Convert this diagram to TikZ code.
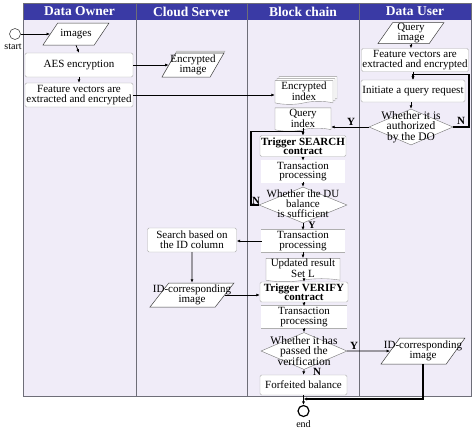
\documentclass[tikz,border=0pt]{standalone}
\usepackage{fontspec}
\setmainfont{Liberation Serif}
\usetikzlibrary{shapes.geometric,shapes.symbols,shadows,arrows.meta,calc}
\definecolor{hdr}{RGB}{58,58,165}
\definecolor{lanebg}{RGB}{240,236,248}
\definecolor{bord}{RGB}{175,175,175}
\definecolor{lanel}{RGB}{110,110,120}
\newcommand\emptyfill{\rule{1pt}{0pt}\rule{0pt}{1pt}}
\begin{document}
\begin{tikzpicture}[x=1pt,y=-1pt,
  txt/.style={font=\fontsize{11}{10}\selectfont, align=center, inner sep=0pt},
  dtxt/.style={font=\fontsize{11.5}{10.3}\selectfont, align=center, inner sep=0pt},
  hd/.style={font=\bfseries\fontsize{13.5}{14}\selectfont, text=white, inner sep=0pt},
  box/.style={draw=bord, fill=white, rounded corners=1.5pt, inner sep=1pt, font=\fontsize{11}{10}\selectfont, align=center},
  tbox/.style={draw=bord, fill=white, double=white, double distance=1.2pt, inner sep=1pt, font=\fontsize{11}{9.5}\selectfont, align=center},
  io/.style={trapezium, trapezium left angle=68, trapezium right angle=112, trapezium stretches=true, draw=black!75, fill=white, inner sep=1pt, line width=0.5pt},
  doc/.style={tape, tape bend top=none, tape bend height=3pt, draw=black!45, fill=white, inner sep=1pt, font=\fontsize{11}{9.5}\selectfont, align=center},
  dia/.style={diamond, draw=black!55, fill=white, inner sep=1pt},
  term/.style={circle, draw=black, line width=1.2pt, fill=white, minimum size=11pt, inner sep=0pt},
  lbl/.style={font=\bfseries\fontsize{11}{11}\selectfont, inner sep=0pt},
  arr/.style={-{Latex[length=3.5pt,width=3pt]}, line width=0.7pt, black},
  larr/.style={-{Latex[length=3.5pt,width=3pt]}, line width=1.3pt, black}
]
\useasboundingbox (0,0) rectangle (474,429);
% lanes
\fill[lanebg] (23,20) rectangle (471,396);
\fill[hdr] (23,3) rectangle (471,20);
\draw[lanel, line width=0.8pt] (23,3) rectangle (471,396);
\foreach \xx in {136,247,359} \draw[lanel, line width=0.8pt] (\xx,3) -- (\xx,396);
\node[hd] (h1) at (79.5,11.5) {Data Owner};
\node[hd] (h2) at (191.5,11.5) {Cloud Server};
\node[hd] (h3) at (303,11.5) {Block chain};
\node[hd] (h4) at (415,11.5) {Data User};

% Data Owner
\node[term, line width=0.6pt, draw=black!70] (start) at (15,34) {};
\node[txt, font=\fontsize{10}{10}\selectfont] (startl) at (13,47) {start};
\node[io, minimum width=66, minimum height=22] (img) at (76,34) {\emptyfill};
\node[txt] at (img) {images};
\node[box, minimum width=108, minimum height=24] (aes) at (79,65) {AES encryption};
\node[box, minimum width=108, minimum height=24] (fvdo) at (79,95) {Feature vectors are\\extracted and encrypted};

% Cloud server
\node[io, minimum width=62, minimum height=24, copy shadow={shadow xshift=1pt, shadow yshift=2pt, fill=gray!35, draw=gray!60}] (encimg) at (193,65) {\emptyfill};
\node[txt] at (encimg) {Encrypted\\image};
\node[box, minimum width=89, minimum height=24] (search) at (192,240) {Search based on\\the ID column};
\node[io, minimum width=84, minimum height=24] (idc) at (192,295) {\emptyfill};
\node[txt] at (idc) {ID-corresponding\\image};

% Block chain
\node[doc, minimum width=58, minimum height=22, double copy shadow={shadow xshift=2pt, shadow yshift=2pt, fill=white, draw=black!40}] (encidx) at (304,91) {Encrypted\\index};
\node[doc, minimum width=56, minimum height=20] (qidx) at (303,118) {Query\\index};
\node[box, minimum width=86, minimum height=21, font=\bfseries\fontsize{11}{9.5}\selectfont] (trigS) at (303,146) {Trigger SEARCH\\contract};
\node[tbox, minimum width=82, minimum height=19] (tp1) at (303,171.5) {Transaction\\processing};
\node[dia, minimum width=88, minimum height=36] (d2) at (303,205) {\emptyfill};
\node[txt, font=\fontsize{11}{10}\selectfont] at (303,204) {Whether the DU\\balance\\is sufficient};
\node[tbox, minimum width=82, minimum height=19] (tp2) at (303,241) {Transaction\\processing};
\node[doc, minimum width=74, minimum height=22] (upd) at (303,268.5) {Updated result\\Set L};
\node[box, minimum width=88, minimum height=20, font=\bfseries\fontsize{11}{9.5}\selectfont] (trigV) at (304,292) {Trigger VERIFY\\contract};
\node[tbox, minimum width=84, minimum height=18] (tp3) at (304,317) {Transaction\\processing};
\node[dia, minimum width=86, minimum height=37] (d3) at (304,351) {\emptyfill};
\node[dtxt] at (d3) {Whether it has\\passed the\\verification};
\node[box, minimum width=87, minimum height=20] (forf) at (303.5,385) {Forfeited balance};
\node[term] (endc) at (303.5,411) {};
\node[txt, font=\fontsize{10}{10}\selectfont] (endl) at (303.5,424) {end};

% Data User
\node[io, minimum width=66, minimum height=21] (qimg) at (411,33) {\emptyfill};
\node[txt] at (qimg) {Query\\image};
\node[box, minimum width=106, minimum height=23] (fvdu) at (415,60) {Feature vectors are\\extracted and encrypted};
\node[box, minimum width=104, minimum height=22] (init) at (413,91) {Initiate a query request};
\node[dia, minimum width=84, minimum height=36] (d1) at (411,127) {\emptyfill};
\node[dtxt] at (d1) {Whether it is\\authorized\\by the DO};
\node[io, minimum width=84, minimum height=26] (idu) at (423,351) {\emptyfill};
\node[txt] at (idu) {ID-corresponding\\image};

% connectors
\draw[arr] (start) -- (img.west);
\draw[arr] (img.south) -- (aes.north);
\draw[arr] (aes.south) -- (fvdo.north);
\draw[arr] (aes.east) -- (encimg.west);
\draw[arr] (fvdo.east) -- (fvdo.east -| encidx.west);
\draw[arr] (qimg.south) -- (qimg.south |- fvdu.north);
\draw[arr] (fvdu.south -| init.north) -- (init.north);
\draw[arr] (init.south -| d1.north) -- (d1.north);
\draw[larr] (d1.east) -- (469,127) |- ($(init.north)+(0,-5)$) -- (init.north);
\node[lbl] (n1) at (461,121) {N};
\draw[arr] (d1.west) -- (d1.west -| qidx.east);
\node[lbl] (y1) at (351,122) {Y};
\draw[arr] (qidx.south) -- (trigS.north);
\draw[arr] (trigS.south) -- (tp1.north);
\draw[arr] (tp1.south) -- (d2.north);
\draw[larr] (d2.west) -- (251,205) |- ($(trigS.north)+(0,-4)$) -- (trigS.north);
\node[lbl] (n2) at (256,201) {N};
\draw[arr] (d2.south) -- (tp2.north);
\node[lbl, font=\bfseries\fontsize{10}{10}\selectfont] (y2) at (312,225.5) {Y};
\draw[arr] (tp2.west) -- (tp2.west -| search.east);
\draw[arr] (tp2.south) -- (upd.north);
\draw[arr] (search.south) -- (idc.north);
\draw[arr] (idc.east) -- (idc.east -| trigV.west);
\draw[arr] (upd.south -| trigV.north) -- (trigV.north);
\draw[arr] (trigV.south) -- (tp3.north);
\draw[arr] (tp3.south) -- (d3.north);
\draw[arr] (d3.east) -- (idu.west);
\node[lbl] (y3) at (354,346) {Y};
\draw[arr] (d3.south) -- (forf.north);
\node[lbl] (n3) at (317,372) {N};
\draw[arr] (forf.south) -- (endc.north);
\draw[larr] (idu.south) |- (forf.south |- 0,399);
\end{tikzpicture}
\end{document}
